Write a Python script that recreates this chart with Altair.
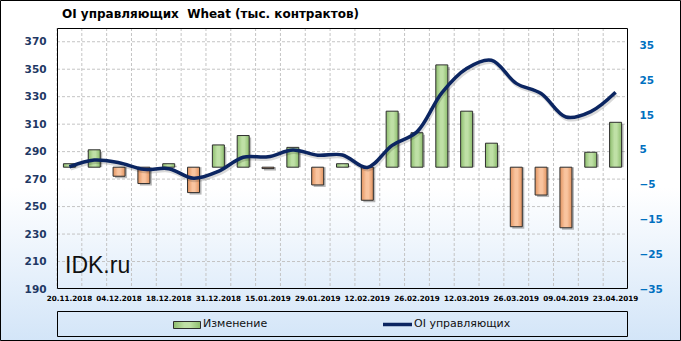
import altair as alt
import pandas as pd

# ---------------- data ----------------
dates = ["20.11.2018", "27.11.2018", "04.12.2018", "11.12.2018", "18.12.2018",
         "24.12.2018", "31.12.2018", "08.01.2019", "15.01.2019", "22.01.2019",
         "29.01.2019", "05.02.2019", "12.02.2019", "19.02.2019", "26.02.2019",
         "05.03.2019", "12.03.2019", "19.03.2019", "26.03.2019", "02.04.2019",
         "09.04.2019", "16.04.2019", "23.04.2019"]
tick_labels = ["20.11.2018", "04.12.2018", "18.12.2018", "31.12.2018", "15.01.2019",
               "29.01.2019", "12.02.2019", "26.02.2019", "12.03.2019", "26.03.2019",
               "09.04.2019", "23.04.2019"]
change = [1.0, 5.0, -2.6, -4.7, 1.0, -7.3, 6.4, 9.1, -0.4, 5.7, -5.1, 1.0,
          -9.5, 16.1, 9.9, 29.4, 16.1, 6.9, -17.1, -8.0, -17.4, 4.3, 12.9]
oi = [279.0, 283.9, 281.9, 277.1, 277.6, 270.6, 275.6, 285.9, 286.2, 291.2, 287.4, 287.6,
      278.5, 294.6, 304.4, 332.8, 350.5, 356.5, 339.7, 332.3, 315.2, 319.1, 333.2]
left_ticks = [190, 210, 230, 250, 270, 290, 310, 330, 350, 370]
right_ticks = [-35, -25, -15, -5, 5, 15, 25, 35]
grid_values = [210, 230, 250, 270, 290, 310, 330, 350, 370]

title_text = "OI управляющих\u00a0 Wheat (тыс. контрактов)"
legend_bar = "Изменение"
legend_line = "OI управляющих"

df = pd.DataFrame({"date": dates, "change": change, "oi": oi})
grid_df = pd.DataFrame({"v": grid_values})
one = pd.DataFrame({"a": [0]})

W, H = 571, 261
FONT = "DejaVu Sans"

x_scale = alt.Scale(domain=dates, paddingInner=0, paddingOuter=0)
x_axis = alt.Axis(values=tick_labels, labelAngle=0, labelFont=FONT, labelFontSize=7.2,
                  labelFontWeight="bold", labelColor="#000000", labelPadding=5,
                  ticks=False, domain=False, grid=False, labelOverlap=False,
                  labelFlush=False, title=None, zindex=1)


def xenc(**kw):
    return alt.X("date:O", sort=dates, scale=x_scale, axis=x_axis, **kw)


left_scale = alt.Scale(domain=[190, 380], nice=False, zero=False)
right_scale = alt.Scale(domain=[-35, 40], nice=False, zero=False)


def grad(c_edge, c_mid):
    return alt.Gradient(gradient="linear", x1=0, x2=1, y1=0, y2=0,
                        stops=[alt.GradientStop(color=c_edge, offset=0),
                               alt.GradientStop(color=c_mid, offset=0.4),
                               alt.GradientStop(color=c_mid, offset=0.6),
                               alt.GradientStop(color=c_edge, offset=1)])


green = grad("#8dbd6d", "#bfe0a6")
orange = grad("#e2935f", "#f9c49f")

# ---------------- background ----------------
bg = alt.Chart(one).mark_rect(
    fill=alt.Gradient(gradient="linear", x1=0, x2=0, y1=0, y2=1,
                      stops=[alt.GradientStop(color="#ffffff", offset=0),
                             alt.GradientStop(color="#ffffff", offset=0.55),
                             alt.GradientStop(color="#d3e5f8", offset=1)])
).encode(x=alt.value(-57), x2=alt.value(624), y=alt.value(-28), y2=alt.value(313))

hgrid = alt.Chart(grid_df).mark_rule(color="#c4c4c4", strokeDash=[3, 2], strokeWidth=1).encode(
    y=alt.Y("v:Q", scale=left_scale, axis=None),
    x=alt.value(0), x2=alt.value(W))

vgrid = alt.Chart(df).mark_rule(color="#c4c4c4", strokeDash=[3, 2], strokeWidth=1).encode(
    x=xenc(bandPosition=0), y=alt.value(0), y2=alt.value(H))

# ---------------- bars ----------------
right_axis = alt.Axis(orient="right", values=right_ticks, labelFont=FONT, labelFontSize=10.5,
                      labelFontWeight="bold", labelColor="#0070c0", labelPadding=11,
                      ticks=False, domain=False, grid=False, title=None, zindex=1)
ybar = alt.Y("change:Q", scale=right_scale, axis=right_axis)

bar_shadow = alt.Chart(df).mark_bar(size=12, color="#000000", opacity=0.28,
                                    xOffset=2, yOffset=2).encode(
    x=xenc(), y=ybar, y2=alt.datum(0))
bar_pos = alt.Chart(df).transform_filter("datum.change >= 0").mark_bar(
    size=12, fill=green, stroke="#2e2e2e", strokeWidth=1).encode(
    x=xenc(), y=ybar, y2=alt.datum(0))
bar_neg = alt.Chart(df).transform_filter("datum.change < 0").mark_bar(
    size=12, fill=orange, stroke="#2e2e2e", strokeWidth=1).encode(
    x=xenc(), y=ybar, y2=alt.datum(0))
bars = alt.layer(bar_shadow, bar_pos, bar_neg)

# ---------------- line ----------------
left_axis = alt.Axis(orient="left", values=left_ticks, labelFont=FONT, labelFontSize=10.5,
                     labelFontWeight="bold", labelColor="#1f3864", labelPadding=11,
                     ticks=False, domain=False, grid=False, title=None, zindex=1)
yline = alt.Y("oi:Q", scale=left_scale, axis=left_axis)
line_shadow = alt.Chart(df).mark_line(interpolate="catmull-rom", color="#000000", opacity=0.15,
                                      strokeWidth=4, xOffset=1, yOffset=2).encode(x=xenc(), y=yline)
line = alt.Chart(df).mark_line(interpolate="catmull-rom", color="#0b2561",
                               strokeWidth=3.5).encode(x=xenc(), y=yline)
lines = alt.layer(line_shadow, line)

# ---------------- frames & texts ----------------
plot_border = alt.Chart(one).mark_rect(fill="transparent", stroke="#000000", strokeWidth=1).encode(
    x=alt.value(0.5), x2=alt.value(W - 0.5), y=alt.value(0.5), y2=alt.value(H - 0.5))
outer_border = alt.Chart(one).mark_rect(fill="transparent", stroke="#000000", strokeWidth=1).encode(
    x=alt.value(-56.5), x2=alt.value(623.5), y=alt.value(-27.5), y2=alt.value(312.5))

title = alt.Chart(one).mark_text(text=title_text, align="left", baseline="middle", font=FONT,
                                 fontSize=12, fontWeight="bold", color="#000000").encode(
    x=alt.value(5), y=alt.value(-14))
idk = alt.Chart(one).mark_text(text="IDK.ru", align="left", baseline="alphabetic",
                               font="Liberation Sans", fontSize=23, color="#111111").encode(
    x=alt.value(8), y=alt.value(245))

legend_box = alt.Chart(one).mark_rect(fill="transparent", stroke="#000000", strokeWidth=1).encode(
    x=alt.value(0.5), x2=alt.value(W - 0.5), y=alt.value(283.5), y2=alt.value(308.5))
leg_swatch = alt.Chart(one).mark_rect(fill=green, stroke="#2e2e2e", strokeWidth=1).encode(
    x=alt.value(116.5), x2=alt.value(143.5), y=alt.value(293.5), y2=alt.value(300.5))
leg_text1 = alt.Chart(one).mark_text(text=legend_bar, align="left", baseline="middle", font=FONT,
                                     fontSize=11, color="#111111").encode(
    x=alt.value(146), y=alt.value(296))
leg_line = alt.Chart(one).mark_rule(color="#0b2561", strokeWidth=3.5).encode(
    x=alt.value(326), x2=alt.value(355), y=alt.value(296.5))
leg_text2 = alt.Chart(one).mark_text(text=legend_line, align="left", baseline="middle", font=FONT,
                                     fontSize=11, color="#111111").encode(
    x=alt.value(357), y=alt.value(296))

chart = alt.layer(
    bg, hgrid, vgrid, bars, lines, plot_border, outer_border, title, idk,
    legend_box, leg_swatch, leg_text1, leg_line, leg_text2
).resolve_scale(y="independent").properties(
    width=W, height=H,
    padding={"left": 57, "top": 28, "right": 53, "bottom": 52},
    autosize=alt.AutoSizeParams(type="none"),
    background="white",
).configure_view(strokeWidth=0)

chart.save("out.html", embed_options={"renderer": "svg", "actions": False})
